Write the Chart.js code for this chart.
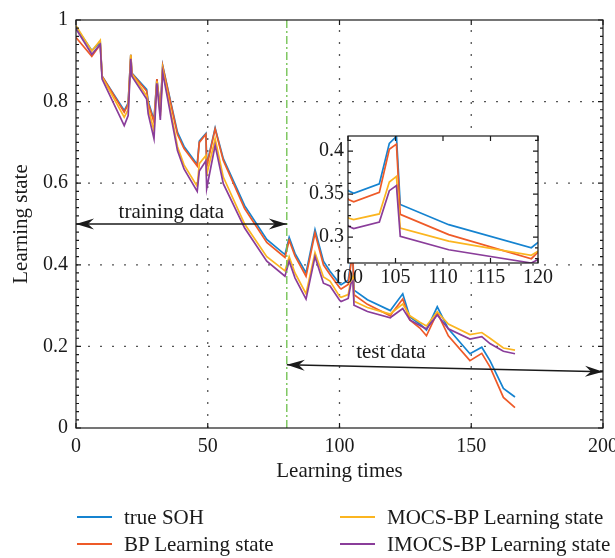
<!DOCTYPE html>
<html>
<head>
<meta charset="utf-8">
<script src="https://cdn.jsdelivr.net/npm/chart.js@4.4.1/dist/chart.umd.min.js"></script>
<style>
  html, body { margin: 0; padding: 0; background: #fff; overflow: hidden; }
  #wrap { position: relative; width: 615px; height: 558px; overflow: hidden; }
  #mainChart { position: absolute; left: 0; top: 0; }
  #insetChart { position: absolute; left: 290px; top: 120px; }
  .leg { position: absolute; height: 24px; display: flex; align-items: center; white-space: nowrap;
         font: 21px "Liberation Serif", "Times New Roman", serif; color: #1a1a1a; }
  .leg span.swatch { display: inline-block; width: 35px; height: 2px; margin-right: 12px; }
</style>
</head>
<body>
<div id="wrap">
  <canvas id="mainChart" width="640" height="558"></canvas>
  <canvas id="insetChart" width="280" height="175"></canvas>
</div>
<script>
// learning times (x) shared by all series
const learningTimes = [0, 6, 9.2, 9.9, 18.3, 19.8, 20.8, 21.2, 26.8, 27.4, 29.6, 30.7, 32, 32.9,
  38.5, 41, 46, 46.8, 49.3, 49.6, 52.8, 55.9, 64, 72.4, 79.3, 80.9, 83.1, 87.3, 90.7, 93.9,
  96.4, 100.1, 100.6, 103.3, 104.35, 105.1, 105.5, 110.6, 119.3, 120, 124, 126.7, 130.5, 133,
  137.1, 141.3, 149.5, 154, 157.1, 162.2, 166.6];

const trueSOH = [0.982, 0.925, 0.946, 0.862, 0.778, 0.797, 0.915, 0.870, 0.830, 0.800, 0.755, 0.855, 0.780, 0.888,
  0.725, 0.690, 0.646, 0.703, 0.722, 0.645, 0.735, 0.660, 0.545, 0.462, 0.425, 0.467, 0.428, 0.380, 0.486, 0.409,
  0.384, 0.3535, 0.351, 0.362, 0.409, 0.417, 0.338, 0.3145, 0.2877, 0.294, 0.329, 0.272, 0.255, 0.240,
  0.297, 0.243, 0.182, 0.198, 0.165, 0.097, 0.076];

const bpState = [0.957, 0.911, 0.940, 0.862, 0.774, 0.794, 0.915, 0.869, 0.826, 0.796, 0.750, 0.855, 0.775, 0.887,
  0.720, 0.685, 0.642, 0.700, 0.720, 0.640, 0.733, 0.656, 0.538, 0.455, 0.418, 0.460, 0.422, 0.372, 0.478, 0.400,
  0.376, 0.3435, 0.341, 0.352, 0.402, 0.408, 0.3265, 0.303, 0.275, 0.2826, 0.316, 0.265, 0.245, 0.226,
  0.283, 0.226, 0.165, 0.183, 0.150, 0.075, 0.050];

const mocsState = [0.986, 0.924, 0.950, 0.860, 0.762, 0.780, 0.915, 0.868, 0.814, 0.785, 0.728, 0.850, 0.765, 0.880,
  0.690, 0.645, 0.592, 0.648, 0.668, 0.620, 0.709, 0.615, 0.500, 0.420, 0.385, 0.420, 0.380, 0.329, 0.430, 0.370,
  0.360, 0.322, 0.3205, 0.327, 0.364, 0.3706, 0.3105, 0.2954, 0.279, 0.2838, 0.304, 0.275, 0.259, 0.250,
  0.285, 0.255, 0.229, 0.234, 0.220, 0.196, 0.191];

const imocsState = [0.978, 0.916, 0.940, 0.855, 0.741, 0.766, 0.905, 0.862, 0.806, 0.770, 0.709, 0.845, 0.755, 0.871,
  0.680, 0.635, 0.580, 0.630, 0.655, 0.587, 0.693, 0.599, 0.490, 0.409, 0.372, 0.409, 0.368, 0.316, 0.420, 0.355,
  0.348, 0.3125, 0.310, 0.3175, 0.354, 0.360, 0.301, 0.2854, 0.270, 0.274, 0.293, 0.265, 0.251, 0.243,
  0.277, 0.243, 0.218, 0.224, 0.207, 0.188, 0.182];

const seriesNames = ["true SOH", "BP Learning state", "MOCS-BP Learning state", "IMOCS-BP Learning state"];
const seriesValues = [trueSOH, bpState, mocsState, imocsState];
const seriesColors = ["#1583d0", "#ee5a28", "#fbb520", "#8a3d9a"];

// axis ticks
const xTicksMain = [0, 50, 100, 150, 200];
const yTicksMain = [0, 0.2, 0.4, 0.6, 0.8, 1];
const xTicksInset = [100, 105, 110, 115, 120];
const yTicksInset = [0.3, 0.35, 0.4];

// annotations (data units)
const splitTime = 80;
const trainArrow = [[0, 0.5], [80, 0.5]];
const testArrow = [[80, 0.155], [200, 0.138]];
const trainLabel = { text: "training data", x: 36.2, y: 0.527 };
const testLabel = { text: "test data", x: 119.5, y: 0.184 };

const FONT = '"Liberation Serif", "Times New Roman", serif';
const INK = "#1a1a1a";
Chart.defaults.font.family = FONT;
Chart.defaults.font.size = 20;
Chart.defaults.color = INK;

function makeDatasets() {
  return seriesNames.map((name, i) => ({
    label: name,
    data: learningTimes.map((t, k) => ({ x: t, y: seriesValues[i][k] })),
    borderColor: seriesColors[i],
    borderWidth: 1.7,
    pointRadius: 0,
    tension: 0,
    fill: false,
    order: 4 - i
  }));
}

function arrowHead(ctx, tx, ty, fx, fy) {
  const ang = Math.atan2(ty - fy, tx - fx);
  ctx.save();
  ctx.translate(tx, ty);
  ctx.rotate(ang);
  ctx.beginPath();
  ctx.moveTo(0, 0);
  ctx.lineTo(-18, -5.5);
  ctx.lineTo(-12, 0);
  ctx.lineTo(-18, 5.5);
  ctx.closePath();
  ctx.fill();
  ctx.restore();
}

function doubleArrow(ctx, x, y, pts) {
  const x1 = x.getPixelForValue(pts[0][0]), y1 = y.getPixelForValue(pts[0][1]);
  const x2 = x.getPixelForValue(pts[1][0]), y2 = y.getPixelForValue(pts[1][1]);
  ctx.beginPath();
  ctx.moveTo(x1, y1);
  ctx.lineTo(x2, y2);
  ctx.stroke();
  arrowHead(ctx, x1, y1, x2, y2);
  arrowHead(ctx, x2, y2, x1, y1);
}

// box with inward ticks (MATLAB look)
function drawBox(chart, yMinorStep) {
  const { ctx, chartArea: a, scales: { x, y } } = chart;
  ctx.save();
  ctx.strokeStyle = INK;
  ctx.lineWidth = 1.2;
  ctx.setLineDash([]);
  ctx.strokeRect(a.left, a.top, a.right - a.left, a.bottom - a.top);
  ctx.beginPath();
  x.ticks.forEach(t => {
    const px = x.getPixelForValue(t.value);
    ctx.moveTo(px, a.bottom); ctx.lineTo(px, a.bottom - 5);
    ctx.moveTo(px, a.top); ctx.lineTo(px, a.top + 5);
  });
  y.ticks.forEach(t => {
    const py = y.getPixelForValue(t.value);
    ctx.moveTo(a.left, py); ctx.lineTo(a.left + 5, py);
    ctx.moveTo(a.right, py); ctx.lineTo(a.right - 5, py);
  });
  const start = Math.ceil(y.min / yMinorStep), end = Math.floor(y.max / yMinorStep);
  for (let k = start; k <= end; k++) {
    const py = y.getPixelForValue(k * yMinorStep);
    ctx.moveTo(a.left, py); ctx.lineTo(a.left + 3, py);
    ctx.moveTo(a.right, py); ctx.lineTo(a.right - 3, py);
  }
  ctx.stroke();
  ctx.restore();
}

const mainDecor = {
  id: "mainDecor",
  beforeDatasetsDraw(chart) {
    const { ctx, chartArea: a, scales: { x, y } } = chart;
    ctx.save();
    ctx.strokeStyle = "#555";
    ctx.lineWidth = 1.3;
    ctx.setLineDash([2, 10]);
    ctx.beginPath();
    xTicksMain.slice(1, -1).forEach(v => {
      const px = x.getPixelForValue(v);
      ctx.moveTo(px, a.bottom); ctx.lineTo(px, a.top);
    });
    yTicksMain.slice(1, -1).forEach(v => {
      const py = y.getPixelForValue(v);
      ctx.moveTo(a.left, py); ctx.lineTo(a.right, py);
    });
    ctx.stroke();
    ctx.restore();
  },
  afterDatasetsDraw(chart) {
    const { ctx, chartArea: a, scales: { x, y } } = chart;
    ctx.save();
    // train / test split
    const sx = x.getPixelForValue(splitTime);
    ctx.strokeStyle = "#6cbf4a";
    ctx.lineWidth = 1.3;
    ctx.setLineDash([8, 3, 2, 3]);
    ctx.beginPath();
    ctx.moveTo(sx, a.top); ctx.lineTo(sx, a.bottom);
    ctx.stroke();
    ctx.setLineDash([]);

    ctx.strokeStyle = INK;
    ctx.fillStyle = INK;
    ctx.lineWidth = 1.4;
    doubleArrow(ctx, x, y, trainArrow);
    doubleArrow(ctx, x, y, testArrow);

    ctx.font = "21px " + FONT;
    ctx.textAlign = "center";
    ctx.textBaseline = "middle";
    [trainLabel, testLabel].forEach(l => {
      ctx.fillText(l.text, x.getPixelForValue(l.x), y.getPixelForValue(l.y));
    });
    ctx.restore();
    drawBox(chart, 0.02);
  }
};

const insetDecor = {
  id: "insetDecor",
  beforeDatasetsDraw(chart) {
    const { ctx, chartArea: a } = chart;
    ctx.save();
    ctx.fillStyle = "#fff";
    ctx.fillRect(a.left, a.top, a.right - a.left, a.bottom - a.top);
    ctx.restore();
  },
  afterDatasetsDraw(chart) {
    drawBox(chart, 0.0125);
  }
};

new Chart(document.getElementById("mainChart"), {
  type: "line",
  data: { datasets: makeDatasets() },
  options: {
    responsive: false,
    animation: false,
    devicePixelRatio: 1,
    layout: { padding: { left: 0, top: 16, right: 37, bottom: 70 } },
    plugins: { legend: { display: false }, tooltip: { enabled: false } },
    scales: {
      x: {
        type: "linear", min: 0, max: 200,
        afterBuildTicks: s => { s.ticks = xTicksMain.map(v => ({ value: v })); },
        afterFit: s => { s.height = 60; },
        grid: { display: false, drawTicks: false },
        border: { display: false },
        ticks: { padding: 7, maxRotation: 0 },
        title: { display: true, text: "Learning times", font: { size: 21 }, padding: { top: 0, bottom: 4 } }
      },
      y: {
        min: 0, max: 1,
        afterBuildTicks: s => { s.ticks = yTicksMain.map(v => ({ value: v })); },
        afterFit: s => { s.width = 76; },
        grid: { display: false, drawTicks: false },
        border: { display: false },
        ticks: { padding: 8, callback: v => String(v) },
        title: { display: true, text: "Learning state", font: { size: 21 }, padding: { top: 9, bottom: 0 } }
      }
    }
  },
  plugins: [mainDecor]
});

new Chart(document.getElementById("insetChart"), {
  type: "line",
  data: { datasets: makeDatasets() },
  options: {
    responsive: false,
    animation: false,
    devicePixelRatio: 1,
    layout: { padding: { left: 0, top: 16, right: 32, bottom: 0 } },
    plugins: { legend: { display: false }, tooltip: { enabled: false } },
    scales: {
      x: {
        type: "linear", min: 100, max: 120,
        afterBuildTicks: s => { s.ticks = xTicksInset.map(v => ({ value: v })); },
        afterFit: s => { s.height = 32; },
        grid: { display: false, drawTicks: false },
        border: { display: false },
        ticks: { padding: 3, maxRotation: 0 }
      },
      y: {
        min: 0.27, max: 0.4175,
        afterBuildTicks: s => { s.ticks = yTicksInset.map(v => ({ value: v })); },
        afterFit: s => { s.width = 58; },
        grid: { display: false, drawTicks: false },
        border: { display: false },
        ticks: { padding: 4, callback: v => String(v) }
      }
    }
  },
  plugins: [insetDecor]
});

// legend: two columns, matching the figure
const legendSlots = [[77, 517], [77, 544], [340, 517], [340, 544]];
const wrap = document.getElementById("wrap");
seriesNames.forEach((name, i) => {
  const d = document.createElement("div");
  d.className = "leg";
  d.style.left = legendSlots[i][0] + "px";
  d.style.top = (legendSlots[i][1] - 12) + "px";
  d.innerHTML = `<span class="swatch" style="background:${seriesColors[i]}"></span>${name}`;
  wrap.appendChild(d);
});
</script>
</body>
</html>
